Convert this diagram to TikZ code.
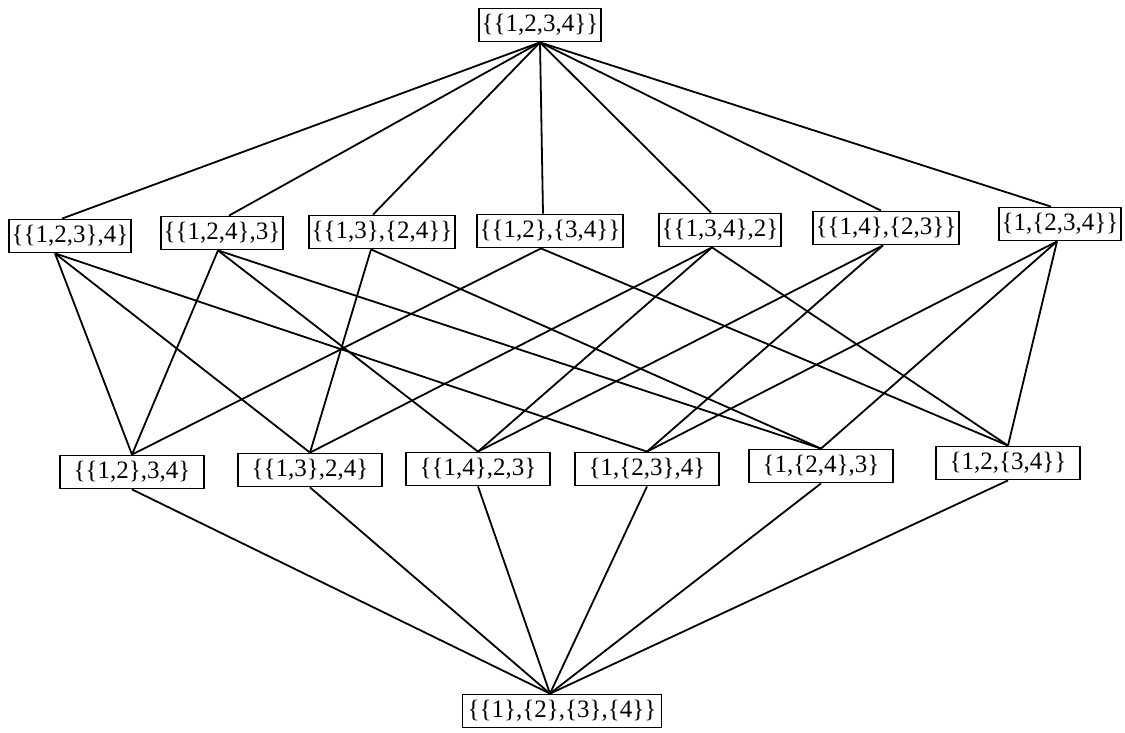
\documentclass[tikz,border=0pt]{standalone}
\usepackage{fontspec}
\setmainfont{Liberation Serif}
\begin{document}
\begin{tikzpicture}[x=1pt,y=-1pt,
  part/.style={draw, line width=1.8pt, inner xsep=3pt, inner ysep=0pt,
               minimum height=33pt, font=\fontsize{25}{26}\selectfont},
  wide/.style={part, minimum width=144pt},
  link/.style={line width=1.8pt}]
\useasboundingbox (0,0) rectangle (1125,732);

% top: one block
\node[part] (top) at (540,25) {\{\{1,2,3,4\}\}};

% two blocks
\node[part] (a1) at (70,236)  {\{\{1,2,3\},4\}};
\node[part] (a2) at (222,233) {\{\{1,2,4\},3\}};
\node[part] (a3) at (382,232) {\{\{1,3\},\{2,4\}\}};
\node[part] (a4) at (550,231) {\{\{1,2\},\{3,4\}\}};
\node[part] (a5) at (720,230) {\{\{1,3,4\},2\}};
\node[part] (a6) at (886,228) {\{\{1,4\},\{2,3\}\}};
\node[part] (a7) at (1060,224){\{1,\{2,3,4\}\}};

% three blocks
\node[wide] (b1) at (132,472) {\{\{1,2\},3,4\}};
\node[wide] (b2) at (310,470) {\{\{1,3\},2,4\}};
\node[wide] (b3) at (478,469) {\{\{1,4\},2,3\}};
\node[wide] (b4) at (647,469) {\{1,\{2,3\},4\}};
\node[wide] (b5) at (821,466) {\{1,\{2,4\},3\}};
\node[wide] (b6) at (1008,463){\{1,2,\{3,4\}\}};

% bottom: singletons
\node[part, minimum width=199pt] (bot) at (562,711) {\{\{1\},\{2\},\{3\},\{4\}\}};

% top to two-block partitions
\draw[link] (top.south) -- ([xshift=-8pt]a1.north);
\draw[link] (top.south) -- ([xshift=7pt]a2.north);
\draw[link] (top.south) -- ([xshift=-9pt]a3.north);
\draw[link] (top.south) -- ([xshift=-7pt]a4.north);
\draw[link] (top.south) -- ([xshift=-9pt]a5.north);
\draw[link] (top.south) -- ([xshift=-5pt]a6.north);
\draw[link] (top.south) -- ([xshift=-9pt]a7.north);

% two-block to three-block refinements
\draw[link] ([xshift=-15pt]a1.south) -- (b1.north);
\draw[link] ([xshift=-15pt]a1.south) -- (b2.north);
\draw[link] ([xshift=-15pt]a1.south) -- (b4.north);
\draw[link] ([xshift=-4pt]a2.south) -- (b1.north);
\draw[link] ([xshift=-4pt]a2.south) -- (b3.north);
\draw[link] ([xshift=-4pt]a2.south) -- (b5.north);
\draw[link] ([xshift=-11pt]a3.south) -- (b2.north);
\draw[link] ([xshift=-11pt]a3.south) -- (b5.north);
\draw[link] ([xshift=-9pt]a4.south) -- (b1.north);
\draw[link] ([xshift=-9pt]a4.south) -- (b6.north);
\draw[link] ([xshift=-8pt]a5.south) -- (b2.north);
\draw[link] ([xshift=-8pt]a5.south) -- (b3.north);
\draw[link] ([xshift=-8pt]a5.south) -- (b6.north);
\draw[link] ([xshift=-3pt]a6.south) -- (b3.north);
\draw[link] ([xshift=-3pt]a6.south) -- (b4.north);
\draw[link] ([xshift=-3pt]a7.south) -- (b4.north);
\draw[link] ([xshift=-3pt]a7.south) -- (b5.north);
\draw[link] ([xshift=-3pt]a7.south) -- (b6.north);

% three-block partitions to bottom
\foreach \n in {b1,b2,b3,b4,b5,b6}
  \draw[link] (\n.south) -- ([xshift=-12pt]bot.north);
\end{tikzpicture}
\end{document}
